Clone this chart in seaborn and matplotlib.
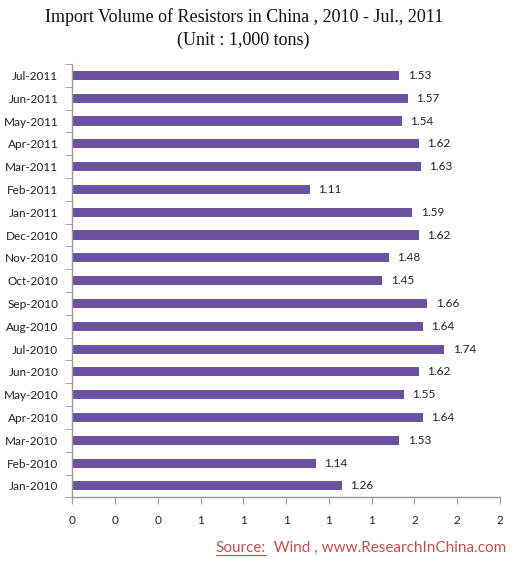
import numpy as np
import pandas as pd
import matplotlib
matplotlib.use("Agg")
import matplotlib.pyplot as plt
from matplotlib.ticker import FixedLocator, FuncFormatter
import seaborn as sns

months = ["Jan-2010", "Feb-2010", "Mar-2010", "Apr-2010", "May-2010", "Jun-2010",
          "Jul-2010", "Aug-2010", "Sep-2010", "Oct-2010", "Nov-2010", "Dec-2010",
          "Jan-2011", "Feb-2011", "Mar-2011", "Apr-2011", "May-2011", "Jun-2011",
          "Jul-2011"]
volume = [1.26, 1.14, 1.53, 1.64, 1.55, 1.62, 1.74, 1.64, 1.66, 1.45, 1.48, 1.62,
          1.59, 1.11, 1.63, 1.62, 1.54, 1.57, 1.53]
x_ticks = [0, 0.2, 0.4, 0.6, 0.8, 1.0, 1.2, 1.4, 1.6, 1.8, 2.0]

df = pd.DataFrame({"month": months, "volume": volume})
order = months[::-1]  # latest month on top

sns.set_style("white")
plt.rcParams["font.family"] = ["Lato", "DejaVu Sans"]

fig = plt.figure(figsize=(5.23, 5.65), dpi=100)
ax = fig.add_axes([0.1382, 0.1198, 0.956 - 0.1382, 0.8867 - 0.1198])

sns.barplot(data=df, x="volume", y="month", order=order, orient="h",
            color="#6E519E", saturation=1, width=0.4, linewidth=0, ax=ax)

# value labels
vals = df.set_index("month").loc[order, "volume"]
ax.bar_label(ax.containers[0], labels=[f"{v:.2f}" for v in vals],
             padding=6, fontsize=8.5, color="#222222")

ax.set_xlim(0, 2.0)
ax.set_ylim(len(order) - 0.5, -0.5)
ax.xaxis.set_major_locator(FixedLocator(x_ticks))
ax.xaxis.set_major_formatter(FuncFormatter(lambda v, p: f"{v:.0f}"))
ax.set_xlabel("")
ax.set_ylabel("")

# y ticks between categories
ax.set_yticks(np.arange(len(order) + 1) - 0.5, minor=True)
ax.tick_params(axis="y", which="major", length=0, pad=10, labelsize=8.5, labelcolor="#222222")
ax.tick_params(axis="y", which="minor", length=5, color="#999999", direction="out", left=True)
ax.tick_params(axis="x", which="major", length=5, color="#999999", direction="out",
               bottom=True, pad=8, labelsize=8.5, labelcolor="#222222")

sns.despine(ax=ax)
for side in ["left", "bottom"]:
    ax.spines[side].set_color("#999999")
    ax.spines[side].set_linewidth(1)

fig.text(0.466, 0.970, "Import Volume of Resistors in China , 2010 - Jul., 2011",
         ha="center", va="center", fontsize=13, family="Liberation Serif", color="#111111")
fig.text(0.466, 0.929, "(Unit : 1,000 tons)",
         ha="center", va="center", fontsize=13, family="Liberation Serif", color="#111111")

# source line, "Source:" underlined
red = "#C0504D"
rest = fig.text(0.968, 0.023, "  Wind , www.ResearchInChina.com", ha="right", va="baseline",
                fontsize=11, color=red)
fig.canvas.draw()
renderer = fig.canvas.get_renderer()
bb = rest.get_window_extent(renderer).transformed(fig.transFigure.inverted())
src = fig.text(bb.x0, 0.023, "Source:", ha="right", va="baseline", fontsize=11, color=red)
fig.canvas.draw()
sb = src.get_window_extent(renderer).transformed(fig.transFigure.inverted())
fig.add_artist(plt.Line2D([sb.x0, sb.x1], [0.017, 0.017], color=red, linewidth=0.8,
                          transform=fig.transFigure))

fig.savefig("out.png", dpi=100)
